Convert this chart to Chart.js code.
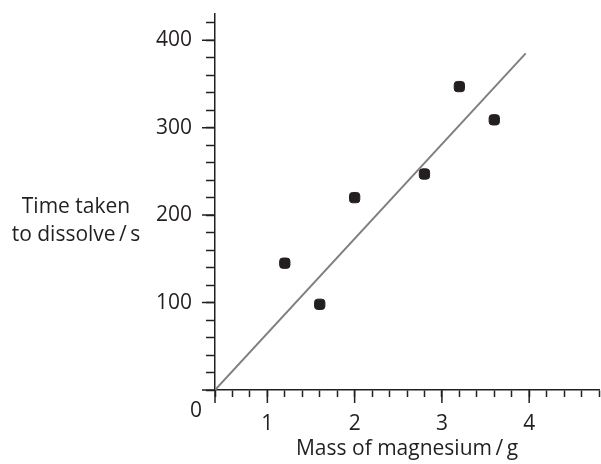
<!DOCTYPE html>
<html>
<head>
<meta charset="utf-8">
<script src="https://cdn.jsdelivr.net/npm/chart.js@4"></script>
<style>
  html, body { margin: 0; padding: 0; background: #fff; overflow: hidden; }
  #wrap { width: 601px; height: 464px; }
  canvas { display: block; }
</style>
</head>
<body>
<div id="wrap"><canvas id="myScatterChart"></canvas></div>
<script>
// data
const massData = [1.2, 1.6, 2.0, 2.8, 3.2, 3.6]
const timeData = [145, 98, 220, 247, 347, 309]
// best-fit line, start and end
const lineMass = [0.4, 3.96]
const lineTime = [0, 385]
const xTickLabels = [1, 2, 3, 4]
const yTickLabels = [100, 200, 300, 400]

const ink = '#231f20'
const fontFam = '"Open Sans", "Noto Sans", sans-serif'

const near = (a, b) => Math.abs(a - b) < 1e-6

// longer tick marks on the major values, plus the horizontal y title and the "0"
const axisExtras = {
    id: 'axisExtras',
    afterDraw(chart) {
        const { ctx, scales: { x, y } } = chart;
        ctx.save();
        ctx.setLineDash([]);
        ctx.strokeStyle = ink;
        ctx.lineWidth = 1.5;
        ctx.beginPath();
        x.ticks.forEach(t => {
            if (xTickLabels.some(v => near(v, t.value)) || near(t.value, x.min)) {
                const px = x.getPixelForValue(t.value);
                ctx.moveTo(px, y.bottom);
                ctx.lineTo(px, y.bottom + 13);
            }
        });
        y.ticks.forEach(t => {
            if (near(t.value, 0) || yTickLabels.some(v => near(v, t.value))) {
                const py = y.getPixelForValue(t.value);
                ctx.moveTo(x.left, py);
                ctx.lineTo(x.left - 13, py);
            }
        });
        ctx.stroke();

        ctx.fillStyle = ink;
        ctx.font = '21px ' + fontFam;
        ctx.textAlign = 'center';
        ctx.textBaseline = 'alphabetic';
        ctx.fillText('0', x.left - 19, y.bottom + 27);
        ctx.fillText('Time taken', 76, 213);
        ctx.fillText('to dissolve\u2009/\u2009s', 76, 241);
        ctx.restore();
    }
};

var scatterCtx = document.getElementById('myScatterChart').getContext('2d');
const scatterChart = new Chart(scatterCtx, {
    type: 'scatter',
    data: {
        datasets: [
            {
                type: 'line',
                data: lineMass.map((m, i) => ({ x: m, y: lineTime[i] })),
                borderColor: '#808080',
                borderWidth: 2,
                pointRadius: 0,
                fill: false,
            },
            {
                data: massData.map((m, i) => ({ x: m, y: timeData[i] })),
                pointStyle: 'rectRounded',
                pointRadius: 6,
                pointHoverRadius: 6,
                backgroundColor: ink,
                borderColor: ink,
                borderWidth: 1,
            }
        ]
    },
    options: {
        responsive: true,
        maintainAspectRatio: false,
        animation: false,
        layout: {
            autoPadding: false, // otherwise the point size eats into the right edge
            padding: { left: 155, top: 14, right: 2, bottom: 0 }
        },
        plugins: {
            legend: { display: false },
            tooltip: { enabled: false }
        },
        scales: {
            x: {
                type: 'linear',
                min: 0.4,
                max: 4.8,
                grid: {
                    drawOnChartArea: false, // only the little tick marks
                    tickLength: 7,
                    tickColor: ink,
                    tickWidth: 1.5
                },
                border: { color: ink, width: 1.5 },
                ticks: {
                    stepSize: 0.2,
                    maxTicksLimit: 100,
                    includeBounds: false,
                    autoSkip: false,
                    maxRotation: 0,
                    padding: 14,
                    color: ink,
                    font: { family: fontFam, size: 21 },
                    callback: v => {
                        const hit = xTickLabels.find(l => near(l, v));
                        return hit !== undefined ? String(hit) : '';
                    }
                },
                title: {
                    display: true,
                    text: 'Mass of magnesium\u2009/\u2009g',
                    color: ink,
                    font: { family: fontFam, size: 21 },
                    padding: { top: 4, bottom: 2 }
                },
                afterFit: s => {
                    s.height = 74;
                    s.paddingLeft = 0;
                    s.paddingRight = 0;
                }
            },
            y: {
                min: 0,
                max: 430,
                grid: {
                    drawOnChartArea: false,
                    tickLength: 9,
                    tickColor: ink,
                    tickWidth: 1.5
                },
                border: { color: ink, width: 1.5 },
                ticks: {
                    stepSize: 20,
                    maxTicksLimit: 100,
                    includeBounds: false,
                    autoSkip: false,
                    padding: 14,
                    color: ink,
                    font: { family: fontFam, size: 21 },
                    callback: v => {
                        const hit = yTickLabels.find(l => near(l, v));
                        return hit !== undefined ? String(hit) : '';
                    }
                },
                afterFit: s => {
                    s.width = 60;
                    s.paddingTop = 0;
                    s.paddingBottom = 0;
                }
            }
        }
    },
    plugins: [axisExtras]
});
</script>
</body>
</html>
